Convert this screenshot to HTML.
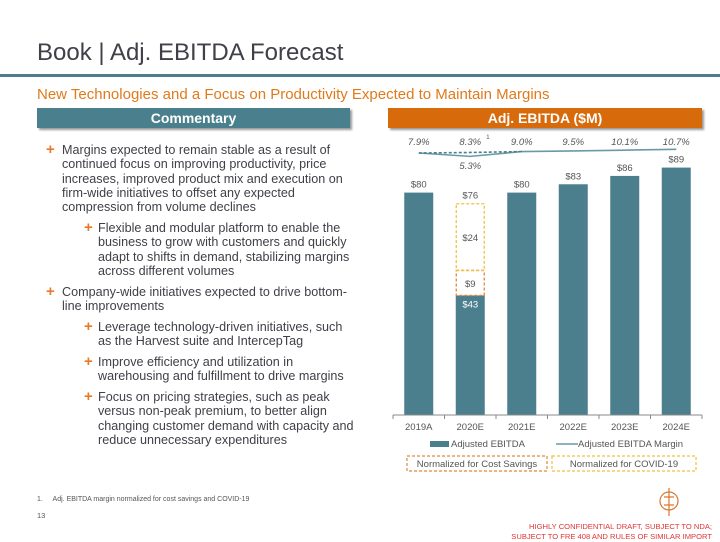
<!DOCTYPE html>
<html><head><meta charset="utf-8">
<style>
body{margin:0;width:720px;height:540px;overflow:hidden;background:#fff;font-family:"Liberation Sans",Arial,sans-serif;position:relative}
.abs{position:absolute;white-space:nowrap}
.t{font-size:12.6px;color:#3f4048;line-height:14.3px}
.plus{color:#e9782a;font-size:15px;font-weight:bold;line-height:14.3px}
</style></head><body>
<div class="abs" style="left:37px;top:39px;font-size:24px;color:#3f4048">Book | Adj. EBITDA Forecast</div>
<div class="abs" style="left:0;top:74px;width:720px;height:3px;background:#4b7f8e"></div>
<div class="abs" style="left:37px;top:86px;font-size:15px;color:#e07a1a">New Technologies and a Focus on Productivity Expected to Maintain Margins</div>
<div class="abs" style="left:37px;top:108px;width:313px;height:20px;background:#4a7f8e;color:#fff;font-weight:bold;font-size:14px;text-align:center;line-height:20px;box-shadow:2px 2px 2px #999">Commentary</div>
<div class="abs" style="left:388px;top:108px;width:314px;height:20px;background:#d76a0b;color:#fff;font-weight:bold;font-size:14px;text-align:center;line-height:20px;box-shadow:2px 2px 2px #999">Adj. EBITDA ($M)</div>

<div>
<div class="abs plus" style="left:46px;top:143px">+</div>
<div class="abs t" style="left:62px;top:143px">Margins expected to remain stable as a result of<br>continued focus on improving productivity, price<br>increases, improved product mix and execution on<br>firm-wide initiatives to offset any expected<br>compression from volume declines</div>
<div class="abs plus" style="left:84px;top:221px">+</div>
<div class="abs t" style="left:98px;top:221px">Flexible and modular platform to enable the<br>business to grow with customers and quickly<br>adapt to shifts in demand, stabilizing margins<br>across different volumes</div>
<div class="abs plus" style="left:46px;top:285px">+</div>
<div class="abs t" style="left:62px;top:285px">Company-wide initiatives expected to drive bottom-<br>line improvements</div>
<div class="abs plus" style="left:84px;top:320px">+</div>
<div class="abs t" style="left:98px;top:320px">Leverage technology-driven initiatives, such<br>as the Harvest suite and IntercepTag</div>
<div class="abs plus" style="left:84px;top:355px">+</div>
<div class="abs t" style="left:98px;top:355px">Improve efficiency and utilization in<br>warehousing and fulfillment to drive margins</div>
<div class="abs plus" style="left:84px;top:390px">+</div>
<div class="abs t" style="left:98px;top:390px">Focus on pricing strategies, such as peak<br>versus non-peak premium, to better align<br>changing customer demand with capacity and<br>reduce unnecessary expenditures</div>
</div>

<svg id="chart" class="abs" style="left:0;top:0" width="720" height="540"></svg>

<div class="abs" style="left:37px;top:496px;font-size:7px;color:#555">1.&nbsp;&nbsp;&nbsp;&nbsp;&nbsp;Adj. EBITDA margin normalized for cost savings and COVID-19</div>
<div class="abs" style="left:37px;top:511px;font-size:7.5px;color:#555">13</div>
<svg class="abs" style="left:657px;top:488px" width="24" height="30">
<circle cx="12" cy="13" r="9" fill="none" stroke="#d9772e" stroke-width="1.2"/>
<line x1="12" y1="0" x2="12" y2="28" stroke="#d9772e" stroke-width="1.2"/>
<path d="M7 9 H17 M7 17 H17" stroke="#d9772e" stroke-width="1.2"/>
</svg>
<div class="abs" style="right:8px;top:522px;font-size:7.6px;color:#e03535;text-align:right;line-height:10px">HIGHLY CONFIDENTIAL DRAFT, SUBJECT TO NDA;<br>SUBJECT TO FRE 408 AND RULES OF SIMILAR IMPORT</div>

<script>
const categories = ["2019A","2020E","2021E","2022E","2023E","2024E"];
const ebitda = [80,43,80,83,86,89];
const costSavings = [0,9,0,0,0,0];
const covid = [0,24,0,0,0,0];
const totals = [80,76,80,83,86,89];
const margins = [7.9,8.3,9.0,9.5,10.1,10.7];
const actualMargins = [7.9,5.3,9.0,9.5,10.1,10.7];
const marginLabels = ["7.9%","8.3%","9.0%","9.5%","10.1%","10.7%"];
const actualMargin2020 = 5.3;

const svg = document.getElementById('chart');
const NS = 'http://www.w3.org/2000/svg';
const x0 = 393, x1 = 702, base = 415, scale = 2.78, bw = 29;
const step = (x1 - x0) / categories.length;
const xC = i => x0 + step * (i + 0.5);
const yV = v => base - v * scale;
const yM = m => 153 - (m - 7.9) * 1.3;
function mk(tag, attrs, text){
  const e = document.createElementNS(NS, tag);
  for (const k in attrs) e.setAttribute(k, attrs[k]);
  if (text !== undefined) e.textContent = text;
  svg.appendChild(e); return e;
}
categories.forEach((c,i)=>{
  const cx = xC(i);
  const b = mk('rect',{x:cx-bw/2,y:yV(ebitda[i]),width:bw,height:ebitda[i]*scale,fill:'#4b7f8e'});
  
  
  let top = ebitda[i];
  if (costSavings[i] > 0){
    const r = mk('rect',{x:cx-bw/2+0.5,y:yV(top+costSavings[i]),width:bw-1,height:costSavings[i]*scale,fill:'none',stroke:'#e0893a','stroke-width':1.3,'stroke-dasharray':'3,2'});
    
    
    mk('text',{x:cx,y:yV(top+costSavings[i]/2)+4,'text-anchor':'middle','font-size':9.5,fill:'#555'},'$'+costSavings[i]);
    mk('text',{x:cx,y:yV(top)+12,'text-anchor':'middle','font-size':9.5,fill:'#fff'},'$'+ebitda[i]);
    top += costSavings[i];
  }
  if (covid[i] > 0){
    const r = mk('rect',{x:cx-bw/2+0.5,y:yV(top+covid[i]),width:bw-1,height:covid[i]*scale,fill:'none',stroke:'#f0c040','stroke-width':1.3,'stroke-dasharray':'3,2'});
    
    
    mk('text',{x:cx,y:yV(top+covid[i]/2)+4,'text-anchor':'middle','font-size':9.5,fill:'#555'},'$'+covid[i]);
    top += covid[i];
  }
  const lbl = mk('text',{x:cx,y:yV(totals[i])-5,'text-anchor':'middle','font-size':9.5,fill:'#555'},'$'+totals[i]);
  
  
  const cl = mk('text',{x:cx,y:base+15,'text-anchor':'middle','font-size':9.5,fill:'#555'},c);
  
  
  const ml = mk('text',{x:cx,y:145,'text-anchor':'middle','font-size':9.5,'font-style':'italic',fill:'#555'},marginLabels[i]);
  
  
  mk('line',{x1:x0+step*i,y1:base,x2:x0+step*i,y2:base+4,stroke:'#888'});
});
mk('line',{x1:x0+step*6,y1:base,x2:x0+step*6,y2:base+4,stroke:'#888'});
mk('text',{x:xC(1)+16,y:139,'font-size':6,fill:'#555'},'1');
mk('text',{x:xC(1),y:169,'text-anchor':'middle','font-size':9.5,'font-style':'italic',fill:'#555'},actualMargin2020.toFixed(1)+'%');
const axis = mk('line',{x1:x0,y1:base,x2:x1,y2:base,stroke:'#888'});


// actual margin line (solid)
let pts = actualMargins.map((m,i)=>xC(i)+','+yM(m)).join(' ');
const ml = mk('polyline',{points:pts,fill:'none',stroke:'#6a9aa6','stroke-width':1.6});


// normalized margin (dashed)
const dl = mk('polyline',{points:[0,1,2].map(i=>xC(i)+','+yM(margins[i])).join(' '),fill:'none',stroke:'#4b7f8e','stroke-width':1.6,'stroke-dasharray':'3,2'});


// legend
const l1 = mk('rect',{x:430,y:441,width:19,height:6,fill:'#4b7f8e'});


mk('text',{x:451,y:447,'font-size':9.5,fill:'#555'},'Adjusted EBITDA');
const l2 = mk('line',{x1:556,y1:444,x2:578,y2:444,stroke:'#6a9aa6','stroke-width':1.6});


mk('text',{x:578,y:447,'font-size':9.5,fill:'#555'},'Adjusted EBITDA Margin');
const b1 = mk('rect',{x:407,y:456,width:140,height:15,fill:'none',stroke:'#e0893a','stroke-width':1.2,'stroke-dasharray':'3,2'});


mk('text',{x:477,y:467,'text-anchor':'middle','font-size':9.5,fill:'#555'},'Normalized for Cost Savings');
const b2 = mk('rect',{x:552,y:456,width:144,height:15,fill:'none',stroke:'#f0c040','stroke-width':1.2,'stroke-dasharray':'3,2'});


mk('text',{x:624,y:467,'text-anchor':'middle','font-size':9.5,fill:'#555'},'Normalized for COVID-19');
</script>
</body></html>
